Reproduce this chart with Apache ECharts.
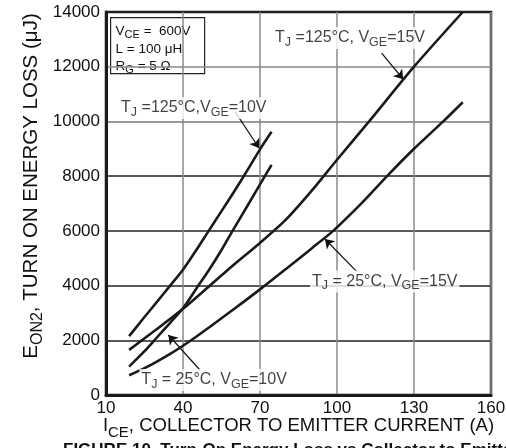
<!DOCTYPE html>
<html>
<head>
<meta charset="utf-8">
<script src="https://cdn.jsdelivr.net/npm/echarts@6/dist/echarts.min.js"></script>
<style>
  html, body { margin: 0; padding: 0; background: #fff; }
  #chart { width: 506px; height: 448px; }
</style>
</head>
<body>
<div id="chart"></div>
<script>
// Turn-on energy loss (uJ) against collector-emitter current (A)
const FONT = '"Liberation Sans", Arial, Helvetica, sans-serif';

const xTicks = [10, 40, 70, 100, 130, 160];
const yTicks = [0, 2000, 4000, 6000, 8000, 10000, 12000, 14000];

// TJ = 125 C, VGE = 10 V
const ice125v10 = [19, 25, 30, 35, 40, 45, 50, 55, 60, 65, 70, 74.5];
const eon125v10 = [2150, 2850, 3420, 4000, 4580, 5270, 6000, 6720, 7450, 8200, 8980, 9620];

// TJ = 125 C, VGE = 15 V
const ice125v15 = [19, 24, 30, 40, 50, 60, 70, 80, 90, 100, 112.5, 130, 149];
const eon125v15 = [1650, 2000, 2420, 3150, 3960, 4780, 5560, 6400, 7450, 8600, 10000, 12000, 14000];

// TJ = 25 C, VGE = 10 V
const ice25v10 = [19, 25, 30, 35, 40, 46, 50, 55, 59.3, 65, 70, 74.5];
const eon25v10 = [1035, 1600, 2120, 2640, 3170, 4000, 4550, 5300, 6000, 6900, 7700, 8410];

// TJ = 25 C, VGE = 15 V
const ice25v15 = [19, 25, 30, 35, 40, 45, 50, 60, 70, 80, 90, 98.5, 110, 119.5, 130, 141.4, 149];
const eon25v15 = [720, 980, 1230, 1500, 1800, 2120, 2460, 3150, 3860, 4600, 5350, 6000, 7050, 8000, 9000, 10000, 10700];

// Curve captions: [x, y] anchor of the text's left-middle, and arrow [from, to]
const captions = [
  { text: '{m|T}{s|J}{m| =125°C,V}{s|GE}{m|=10V}', at: [15.1, 10493], arrow: [[60.3, 10347], [69.7, 9020]] },
  { text: '{m|T}{s|J}{m| =125°C, V}{s|GE}{m|=15V}', at: [75.1, 13052], arrow: [[117.4, 12493], [125.8, 11542]] },
  { text: '{m|T}{s|J}{m| = 25°C, V}{s|GE}{m|=15V}', at: [89.5, 4150], arrow: [[107.7, 4508], [95.3, 5703]] },
  { text: '{m|T}{s|J}{m| = 25°C, V}{s|GE}{m|=10V}', at: [23.0, 548], arrow: [[46.6, 914], [34.3, 2194]] }
];

const zip = (xs, ys) => xs.map((x, i) => [x, ys[i]]);

const richStyles = {
  m: { fontSize: 16, fontFamily: FONT, color: '#111' },
  s: { fontSize: 12.5, fontFamily: FONT, color: '#111', padding: [9, 0, 0, 0] }
};

const curveStyle = { color: '#1a1a1a', width: 2.6 };

function curve(name, xs, ys) {
  return {
    name: name,
    type: 'line',
    data: zip(xs, ys),
    smooth: 0.25,
    showSymbol: false,
    lineStyle: curveStyle,
    itemStyle: { color: '#1a1a1a' },
    animation: false,
    silent: true,
    z: 5
  };
}

const plain = v => String(v);

const chart = echarts.init(document.getElementById('chart'), null, { renderer: 'canvas' });

const option = {
  backgroundColor: '#fff',
  animation: false,
  grid: {
    left: 106, top: 12, right: 15, bottom: 53,
    show: true, borderColor: '#1a1a1a', borderWidth: 2.5,
    containLabel: false, outerBoundsMode: 'none'
  },
  xAxis: {
    type: 'value',
    min: xTicks[0],
    max: xTicks[xTicks.length - 1],
    interval: 30,
    axisLine: { show: true, lineStyle: { color: '#1a1a1a', width: 3 } },
    axisTick: { show: false },
    axisLabel: { fontSize: 17, fontFamily: FONT, color: '#111', margin: 5, formatter: plain },
    splitLine: { show: true, lineStyle: { color: '#8a8a8a', width: 1.5 } },
    name: '{m|I}{s|CE}{m|, COLLECTOR TO EMITTER CURRENT (A)}',
    nameLocation: 'middle',
    nameGap: 17,
    nameMoveOverlap: false,
    nameTextStyle: {
      rich: {
        m: { fontSize: 18.5, fontFamily: FONT, color: '#111' },
        s: { fontSize: 15, fontFamily: FONT, color: '#111', padding: [13, 0, 0, 0] }
      }
    }
  },
  yAxis: {
    type: 'value',
    min: yTicks[0],
    max: yTicks[yTicks.length - 1],
    interval: 2000,
    axisLine: { show: true, lineStyle: { color: '#1a1a1a', width: 3 } },
    axisTick: { show: false },
    axisLabel: { fontSize: 17, fontFamily: FONT, color: '#111', margin: 6, formatter: plain },
    splitLine: {
      show: true,
      lineStyle: {
        color: ['#222', '#222', '#222', '#222', '#222', '#777', '#888', '#222'],
        width: 1.5
      }
    }
  },
  graphic: [
    {
      // y-axis title, read bottom to top
      type: 'text',
      x: 31,
      y: 186,
      rotation: Math.PI / 2,
      z: 20,
      style: {
        text: '{m|E}{s|ON2}{m|, TURN ON ENERGY LOSS (μJ)}',
        align: 'center',
        verticalAlign: 'middle',
        rich: {
          m: { fontSize: 20.5, fontFamily: FONT, fill: '#111' },
          s: { fontSize: 16, fontFamily: FONT, fill: '#111', padding: [14, 0, 0, 0] }
        }
      }
    },
    {
      type: 'group',
      left: 110,
      top: 17,
      z: 20,
      children: [
        { type: 'rect', shape: { x: 0, y: 0, width: 94, height: 56 }, style: { fill: '#fff', stroke: '#222', lineWidth: 1.2 } },
        {
          type: 'text', x: 5, y: 5,
          style: {
            text: '{m|V}{s|CE}{m| =  600V}\n{m|L = 100 μH}\n{m|R}{s|G}{m| = 5 Ω}',
            rich: {
              m: { fontSize: 13.5, fontFamily: FONT, fill: '#111', lineHeight: 17.5 },
              s: { fontSize: 11, fontFamily: FONT, fill: '#111', padding: [7, 0, 0, 0], lineHeight: 17.5 }
            }
          }
        }
      ]
    },
    {
      type: 'text',
      left: 63,
      top: 442,
      style: {
        text: 'FIGURE 10. Turn-On Energy Loss vs Collector to Emitter Current',
        font: 'bold 17px ' + FONT,
        fill: '#111'
      }
    }
  ],
  series: [
    curve('TJ=125°C, VGE=10V', ice125v10, eon125v10),
    curve('TJ=125°C, VGE=15V', ice125v15, eon125v15),
    curve('TJ=25°C, VGE=10V', ice25v10, eon25v10),
    curve('TJ=25°C, VGE=15V', ice25v15, eon25v15),
    {
      name: 'captions',
      type: 'scatter',
      symbolSize: 0,
      silent: true,
      animation: false,
      z: 10,
      data: captions.map(c => ({
        value: c.at,
        label: {
          show: true,
          position: [0, 0],
          align: 'left',
          verticalAlign: 'middle',
          formatter: c.text,
          backgroundColor: '#fff',
          padding: [0, 2, 0, 2],
          rich: richStyles
        }
      })),
      markLine: {
        silent: true,
        animation: false,
        symbol: ['none', 'arrow'],
        symbolSize: 9,
        label: { show: false },
        lineStyle: { color: '#111', width: 1.2, type: 'solid' },
        data: captions.map(c => [{ coord: c.arrow[0] }, { coord: c.arrow[1] }])
      }
    }
  ]
};

chart.setOption(option);
</script>
</body>
</html>
